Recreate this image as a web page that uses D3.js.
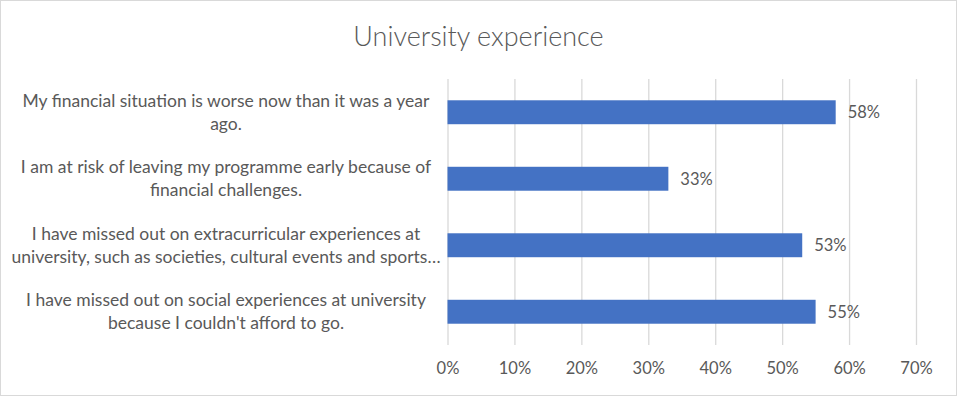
<!DOCTYPE html>
<html>
<head>
<meta charset="utf-8">
<script src="https://cdn.jsdelivr.net/npm/d3@7"></script>
<style>
  html, body { margin: 0; padding: 0; background: #fff; }
  svg { display: block; }
  text { font-family: Lato, "Open Sans", sans-serif; fill: #595959; }
</style>
</head>
<body>
<svg id="chart" width="957" height="396"></svg>
<script>
const title = "University experience";
const categories = [
  ["My financial situation is worse now than it was a year", "ago."],
  ["I am at risk of leaving my programme early because of", "financial challenges."],
  ["I have missed out on extracurricular experiences at", "university, such as societies, cultural events and sports\u2026"],
  ["I have missed out on social experiences at university", "because I couldn't afford to go."]
];
const values = [0.58, 0.33, 0.53, 0.55];
const tickValues = [0, 0.1, 0.2, 0.3, 0.4, 0.5, 0.6, 0.7];

const W = 957, H = 396;
const plot = { left: 447.5, right: 916, top: 79, bottom: 345 };
const svg = d3.select("#chart");

svg.append("rect")
  .attr("x", 0.5).attr("y", 0.5)
  .attr("width", W - 1).attr("height", H - 1)
  .attr("fill", "#fff").attr("stroke", "#d9d9d9").attr("stroke-width", 1);

svg.append("text")
  .attr("x", 478.5).attr("y", 46)
  .attr("text-anchor", "middle")
  .style("font-size", "27px")
  .style("font-weight", 300)
  .text(title);

const x = d3.scaleLinear().domain([0, 0.7]).range([plot.left, plot.right]);
const y = d3.scaleBand().domain(d3.range(categories.length))
  .range([plot.top, plot.bottom]).paddingInner(0.64).paddingOuter(0.32);

// gridlines
const xAxis = d3.axisBottom(x).tickValues(tickValues).tickFormat(d3.format(".0%"))
  .tickSize(-(plot.bottom - plot.top)).tickPadding(17);
const gx = svg.append("g").attr("transform", `translate(0,${plot.bottom})`).call(xAxis);
gx.select(".domain").remove();
gx.selectAll(".tick line").attr("stroke", "#d9d9d9").attr("stroke-width", 1.3);
gx.selectAll(".tick text").style("font-size", "16.5px").attr("fill", "#595959");

// bars
svg.append("g").selectAll("rect").data(values).join("rect")
  .attr("x", x(0))
  .attr("y", (d, i) => y(i))
  .attr("width", d => x(d) - x(0))
  .attr("height", y.bandwidth())
  .attr("fill", "#4472c4");

// value labels
svg.append("g").selectAll("text").data(values).join("text")
  .attr("x", d => x(d) + 12)
  .attr("y", (d, i) => y(i) + y.bandwidth() / 2)
  .attr("dy", "0.35em")
  .style("font-size", "16.5px")
  .text(d => d3.format(".0%")(d));

// category labels
const labelCenter = 226;
const lineH = 23;
const cat = svg.append("g").selectAll("text").data(categories).join("text")
  .attr("text-anchor", "middle")
  .style("font-size", "17.5px")
  .attr("y", (d, i) => y(i) + y.bandwidth() / 2 - (d.length - 1) * lineH / 2);
cat.selectAll("tspan").data(d => d).join("tspan")
  .attr("x", labelCenter)
  .attr("dy", (d, j) => j === 0 ? "0.35em" : lineH)
  .text(d => d);
</script>
</body>
</html>
